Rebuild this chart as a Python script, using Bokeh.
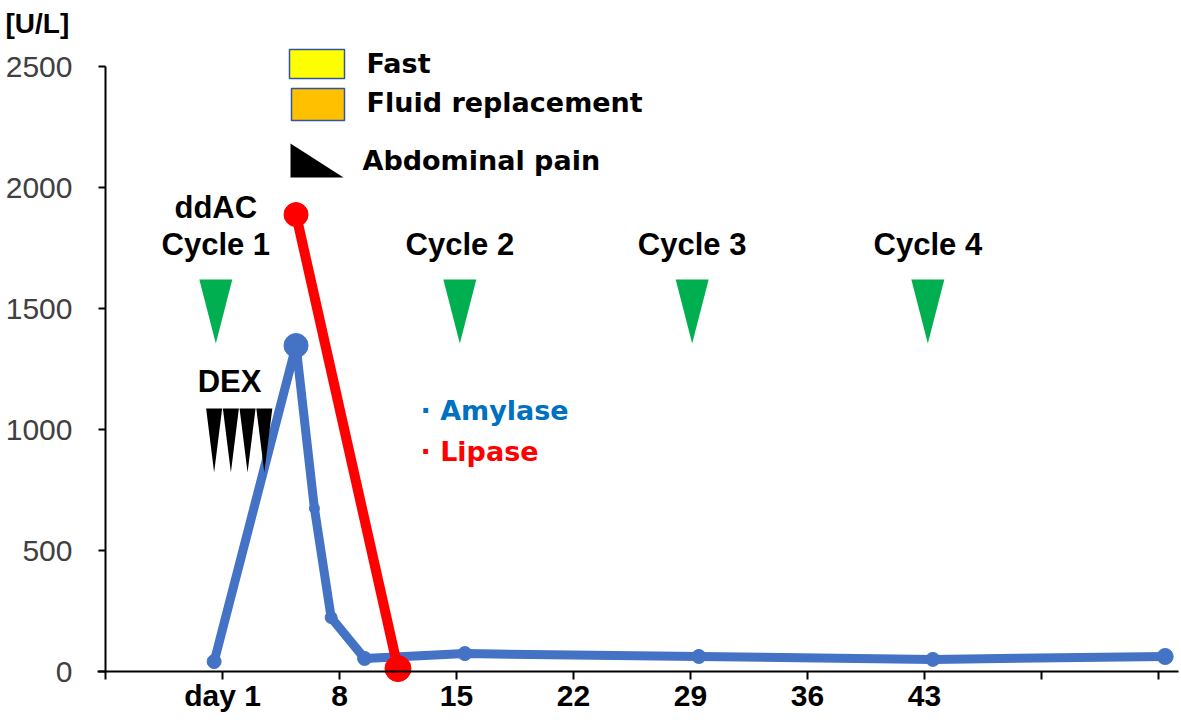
from bokeh.plotting import figure
from bokeh.models import FixedTicker, Range1d
from bokeh.core.properties import value
from bokeh.embed import file_html
from bokeh.resources import INLINE

# ---------------- data ----------------
amylase_day = [0.5, 5.4, 6.5, 7.5, 9.5, 15.5, 29.5, 43.5, 57.4]
amylase_val = [41, 1347, 674, 223, 54, 74, 62, 50, 62]
lipase_day = [5.4, 11.5]
lipase_val = [1888, 12]
cycle_day = [0.6, 15.2, 29.1, 43.2]
cycle_names = ["Cycle 1", "Cycle 2", "Cycle 3", "Cycle 4"]
regimen_name = "ddAC"
dex_day = [0.5, 1.5, 2.5, 3.5]
x_tick_days = [-6, 1, 8, 15, 22, 29, 36, 43, 50, 57]
x_tick_labels = ["", "day 1", "8", "15", "22", "29", "36", "43", "", ""]
y_ticks = [0, 500, 1000, 1500, 2000, 2500]
y_unit = "[U/L]"
legend_names = ["Fast", "Fluid replacement", "Abdominal pain"]
series_names = ["Amylase", "Lipase"]

# ---------------- layout constants ----------------
W, H = 1180, 720
OX, OY = 0, 0            # page offset of the canvas
PX_DAY = 16.714          # pixels per day
PX_U = 0.242             # pixels per U/L
BLUE = "#4472C4"
RED = "#FF0000"
GREEN = "#00B050"
BOLD_FONT = "DejaVu Sans"
ARIAL = "Liberation Sans"


def dx(px):
    """page pixel x -> day"""
    return -6 + (px - 105) / PX_DAY


def dy(py):
    """page pixel y -> U/L"""
    return (671 - py) / PX_U


p = figure(width=W, height=H, output_backend="svg", toolbar_location=None,
           x_range=Range1d(dx(OX), dx(OX + W)), y_range=Range1d(dy(OY + H), dy(OY)),
           min_border=0)
p.outline_line_color = None
p.grid.visible = False
p.background_fill_color = "white"
p.border_fill_color = "white"

# axes (pinned inside the frame)
xa = p.xaxis[0]
xa.fixed_location = 0
xa.ticker = FixedTicker(ticks=x_tick_days)
xa.major_label_overrides = {d: l for d, l in zip(x_tick_days, x_tick_labels)}
xa.bounds = (dx(97), dx(1178))
xa.axis_line_width = 2
xa.axis_line_color = "black"
xa.major_tick_line_width = 2
xa.major_tick_out = 8
xa.major_tick_in = 0
xa.minor_tick_line_color = None
xa.major_label_text_font = ARIAL
xa.major_label_text_font_style = "bold"
xa.major_label_text_font_size = "30px"
xa.major_label_text_color = "black"
xa.major_label_standoff = -1

ya = p.yaxis[0]
ya.fixed_location = -6
ya.ticker = FixedTicker(ticks=y_ticks)
ya.bounds = (0, 2500)
ya.axis_line_width = 2
ya.axis_line_color = "black"
ya.major_tick_line_width = 2
ya.major_tick_out = 7
ya.major_tick_in = 0
ya.minor_tick_line_color = None
ya.major_label_text_font = ARIAL
ya.major_label_text_font_size = "30px"
ya.major_label_text_color = "#404040"
ya.major_label_standoff = 26

# ---------------- series ----------------
p.line(amylase_day, amylase_val, line_color=BLUE, line_width=9, line_join="round")
p.scatter(amylase_day, amylase_val, size=[14, 24, 10, 12, 14, 14, 14, 14, 16],
          fill_color=BLUE, line_color=BLUE)
p.line(lipase_day, lipase_val, line_color=RED, line_width=10)
p.scatter(lipase_day, lipase_val, size=[24, 26], fill_color=RED, line_color=RED)

# ---------------- cycle markers ----------------
tri_top, tri_tip, tri_hw = dy(279), dy(343), 16.5 / PX_DAY
p.patches([[d - tri_hw, d + tri_hw, d] for d in cycle_day],
          [[tri_top, tri_top, tri_tip] for d in cycle_day],
          fill_color=GREEN, line_color=None)
lab_y = tri_top + 35 / PX_U
p.text(cycle_day, [lab_y] * len(cycle_day), text=cycle_names,
       text_font=value(ARIAL), text_font_style="bold", text_font_size="31px",
       text_align="center", text_baseline="middle", text_color="black")
p.text([cycle_day[0]], [lab_y + 37 / PX_U], text=[regimen_name],
       text_font=value(ARIAL), text_font_style="bold", text_font_size="31px",
       text_align="center", text_baseline="middle", text_color="black")

# DEX
dex_top, dex_tip, dex_hw = dy(408), dy(472), 8 / PX_DAY
p.patches([[d - dex_hw, d + dex_hw, d] for d in dex_day],
          [[dex_top, dex_top, dex_tip] for d in dex_day],
          fill_color="black", line_color=None)
p.text([dx(229)], [dy(381)], text=["DEX"],
       text_font=value(ARIAL), text_font_style="bold", text_font_size="31px",
       text_align="center", text_baseline="middle", text_color="black")

# ---------------- legend (drawn) ----------------
p.quad(left=[dx(289)], right=[dx(344)], top=[dy(49)], bottom=[dy(78)],
       fill_color="#FFFF00", line_color="#2F55A4", line_width=1.5)
p.quad(left=[dx(291)], right=[dx(344)], top=[dy(88)], bottom=[dy(120)],
       fill_color="#FFC000", line_color="#2F55A4", line_width=1.5)
p.patch([dx(290), dx(290), dx(343)], [dy(143), dy(177), dy(177)],
        fill_color="black", line_color=None)
p.text([dx(366), dx(366), dx(362)], [dy(63), dy(102), dy(160)], text=legend_names,
       text_font=value(BOLD_FONT), text_font_style="bold", text_font_size="27px",
       text_align="left", text_baseline="middle", text_color="black")

# series labels
p.text([dx(420), dx(420)], [dy(410), dy(451)],
       text=["\u00b7 " + s for s in series_names],
       text_font=value(BOLD_FONT), text_font_style="bold", text_font_size="27px",
       text_align="left", text_baseline="middle", text_color=["#0070C0", RED])

# unit label
p.text([dx(5)], [dy(23)], text=[y_unit], text_font=value(ARIAL),
       text_font_style="bold", text_font_size="28px",
       text_baseline="middle", text_align="left", text_color="black")

open("out.html", "w").write(file_html(p, INLINE))
